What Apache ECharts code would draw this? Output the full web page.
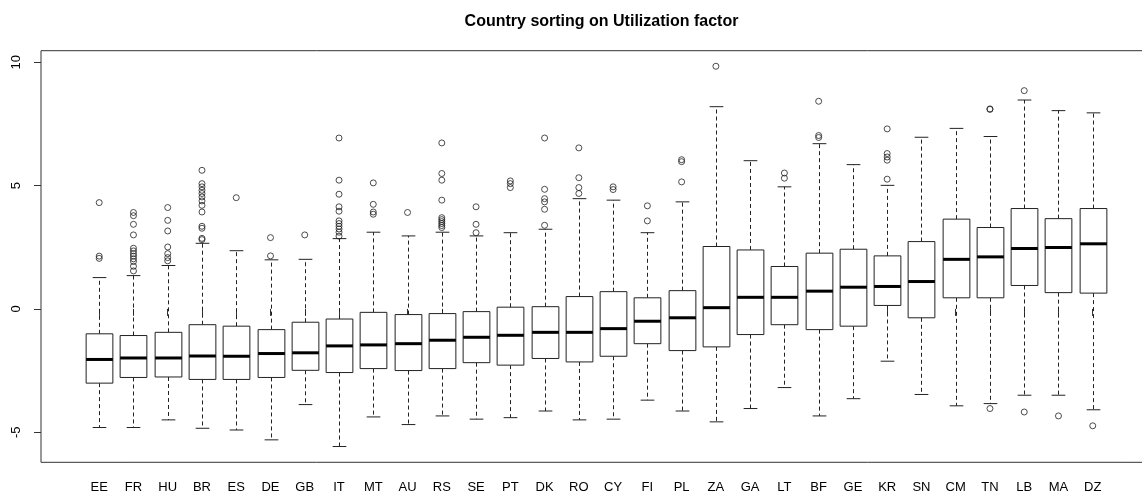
<!DOCTYPE html>
<html>
<head>
<meta charset="utf-8">
<script src="https://cdn.jsdelivr.net/npm/echarts@6/dist/echarts.min.js"></script>
<style>
  html, body { margin: 0; padding: 0; background: #fff; }
  #chart { width: 1142px; height: 493px; }
</style>
</head>
<body>
<div id="chart"></div>
<script>
const categories = ['EE','FR','HU','BR','ES','DE','GB','IT','MT','AU','RS','SE','PT','DK','RO','CY','FI','PL','ZA','GA','LT','BF','GE','KR','SN','CM','TN','LB','MA','DZ'];
const lowWhisker = [-4.81,-4.81,-4.50,-4.84,-4.91,-5.31,-3.88,-5.58,-4.38,-4.69,-4.34,-4.47,-4.41,-4.14,-4.50,-4.47,-3.70,-4.14,-4.58,-4.04,-3.19,-4.34,-3.64,-2.12,-3.47,-3.93,-3.84,-3.50,-3.50,-4.09];
const q1 = [-3.01,-2.78,-2.76,-2.86,-2.86,-2.78,-2.49,-2.58,-2.42,-2.50,-2.42,-2.18,-2.28,-2.01,-2.15,-1.92,-1.41,-1.69,-1.54,-1.04,-0.64,-0.84,-0.70,0.14,-0.36,0.45,0.45,0.95,0.66,0.64];
const median = [-2.05,-1.99,-1.99,-1.91,-1.92,-1.81,-1.78,-1.50,-1.46,-1.41,-1.27,-1.15,-1.07,-0.95,-0.95,-0.80,-0.50,-0.36,0.05,0.47,0.47,0.72,0.88,0.91,1.11,2.01,2.11,2.45,2.49,2.64];
const q3 = [-1.01,-1.08,-0.95,-0.64,-0.70,-0.84,-0.54,-0.41,-0.14,-0.23,-0.19,-0.11,0.07,0.09,0.50,0.70,0.45,0.74,2.53,2.39,1.72,2.26,2.42,2.15,2.73,3.64,3.30,4.07,3.66,4.07];
const highWhisker = [1.27,1.35,1.76,2.66,2.36,1.99,2.01,2.85,3.11,2.96,3.11,2.96,3.09,3.23,4.47,4.41,3.09,4.34,8.20,6.01,4.95,6.70,5.85,5.01,6.96,7.32,6.99,8.47,8.04,7.95];
const outliers = [
  [4.31,2.14,2.05],
  [3.91,3.78,3.43,3.00,2.46,2.35,2.24,2.14,2.03,1.92,1.73,1.54],
  [4.11,3.59,3.16,2.51,2.24,2.08,1.95],
  [5.62,5.08,4.95,4.81,4.68,4.54,4.38,4.20,3.93,3.35,3.27,2.86,2.81],
  [4.51],
  [2.89,2.15],
  [3.00],
  [6.93,5.22,4.65,4.14,3.96,3.57,3.46,3.35,3.24,3.11,2.95],
  [5.11,4.24,3.93,3.84],
  [3.91],
  [6.73,5.49,5.22,4.41,3.70,3.62,3.54,3.46,3.38,3.30],
  [4.14,3.43,3.09],
  [5.19,5.08,4.92],
  [6.93,4.85,4.47,4.34,4.04,3.39],
  [6.53,5.32,4.92,4.68],
  [4.95,4.84],
  [4.18,3.57],
  [6.05,5.97,5.15],
  [9.84],
  [],
  [5.51,5.30],
  [8.42,7.03,6.95],
  [],
  [7.30,6.30,6.16,6.03,5.26],
  [],
  [],
  [8.11,8.09,-4.04],
  [8.85,-4.18],
  [-4.34],
  [-4.74]
];
const yTicks = [-5, 0, 5, 10];
const yMin = -6.22, yMax = 10.47;
const titleText = 'Country sorting on Utilization factor';

// layout (R-style plot region)
const frameLeft = 41, frameTop = 50.7, frameBottom = 462.3;
const band = 34.26;
const firstCenter = 99.2;
const gridLeft = firstCenter - band / 2;
const gridWidth = band * categories.length;
const frameWidth = 1111;

const boxData = categories.map((c, i) => [i, lowWhisker[i], q1[i], median[i], q3[i], highWhisker[i]]);
const outlierData = [];
outliers.forEach((arr, i) => arr.forEach(v => outlierData.push([i, v])));

const chart = echarts.init(document.getElementById('chart'), null, { renderer: 'canvas' });
const FONT = 'Liberation Sans, Arial, sans-serif';

chart.setOption({
  animation: false,
  backgroundColor: '#fff',
  title: {
    text: titleText,
    left: (frameLeft + frameLeft + frameWidth) / 2,
    top: 9,
    textAlign: 'center',
    textStyle: { fontFamily: FONT, fontSize: 16, fontWeight: 'bold', color: '#000' }
  },
  grid: {
    left: gridLeft,
    top: frameTop,
    width: gridWidth,
    height: frameBottom - frameTop,
    outerBoundsMode: 'none',
    containLabel: false
  },
  graphic: [{
    type: 'rect',
    silent: true,
    z: 10,
    shape: { x: frameLeft, y: frameTop, width: frameWidth, height: frameBottom - frameTop },
    style: { fill: 'none', stroke: '#333', lineWidth: 1 }
  }],
  xAxis: {
    type: 'category',
    data: categories,
    boundaryGap: true,
    axisLine: { show: false },
    axisTick: { show: true, alignWithLabel: true, interval: 0, length: 7, lineStyle: { color: '#333', width: 1 } },
    axisLabel: { interval: 0, margin: 19, fontFamily: FONT, fontSize: 13, color: '#000' },
    splitLine: { show: false }
  },
  yAxis: {
    type: 'value',
    min: yMin,
    max: yMax,
    offset: gridLeft - frameLeft,
    axisLine: { show: false },
    axisTick: { show: true, customValues: yTicks, length: 7, lineStyle: { color: '#333', width: 1 } },
    axisLabel: { customValues: yTicks, rotate: 90, margin: 18, fontFamily: FONT, fontSize: 13, color: '#000' },
    splitLine: { show: false }
  },
  series: [
    {
      type: 'custom',
      name: 'box',
      data: boxData,
      encode: { x: 0, y: [1, 2, 3, 4, 5] },
      renderItem: function (params, api) {
        const x = api.value(0);
        const lo = api.coord([x, api.value(1)]);
        const b1 = api.coord([x, api.value(2)]);
        const md = api.coord([x, api.value(3)]);
        const b3 = api.coord([x, api.value(4)]);
        const hi = api.coord([x, api.value(5)]);
        const bw = api.size([1, 0])[0];
        const boxW = bw * 0.78;
        const capW = bw * 0.4;
        const cx = Math.round(lo[0]) + 0.5;
        const dash = { stroke: '#222', lineWidth: 1, lineDash: [4, 3] };
        const solid = { stroke: '#222', lineWidth: 1 };
        return {
          type: 'group',
          children: [
            { type: 'line', shape: { x1: cx, y1: b3[1], x2: cx, y2: hi[1] }, style: dash },
            { type: 'line', shape: { x1: cx, y1: b1[1], x2: cx, y2: lo[1] }, style: dash },
            { type: 'line', shape: { x1: cx - capW / 2, y1: hi[1], x2: cx + capW / 2, y2: hi[1] }, style: solid },
            { type: 'line', shape: { x1: cx - capW / 2, y1: lo[1], x2: cx + capW / 2, y2: lo[1] }, style: solid },
            { type: 'rect', shape: { x: cx - boxW / 2, y: b3[1], width: boxW, height: b1[1] - b3[1] }, style: { fill: '#fff', stroke: '#222', lineWidth: 1 } },
            { type: 'line', shape: { x1: cx - boxW / 2, y1: md[1], x2: cx + boxW / 2, y2: md[1] }, style: { stroke: '#000', lineWidth: 3 } }
          ]
        };
      },
      z: 2
    },
    {
      type: 'scatter',
      name: 'outliers',
      data: outlierData,
      symbol: 'circle',
      symbolSize: 6,
      itemStyle: { color: 'rgba(0,0,0,0)', borderColor: '#222', borderWidth: 1 },
      z: 3
    }
  ]
});
</script>
</body>
</html>
